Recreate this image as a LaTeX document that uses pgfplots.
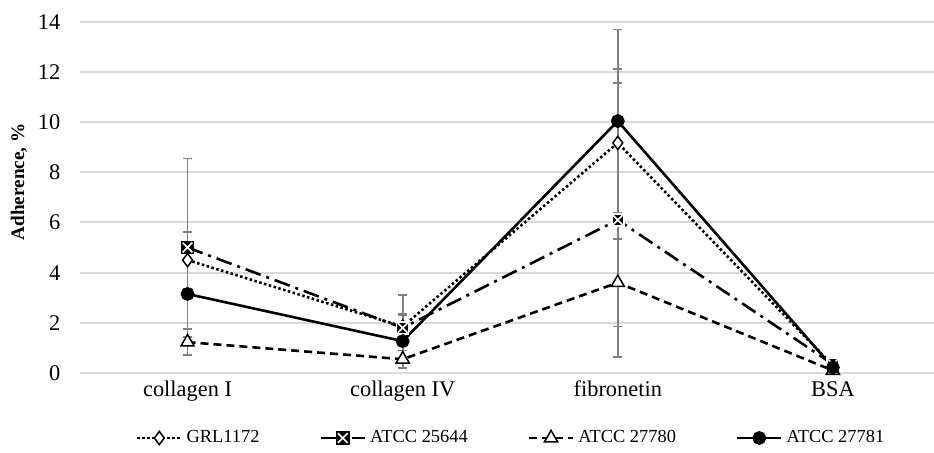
\documentclass[border=0pt]{standalone}
\usepackage{fontspec}
\setmainfont{Liberation Serif}
\usepackage{pgfplots}
\usepackage{pgfplotstable}
\pgfplotsset{compat=1.18}

% black square with a white cross
\pgfdeclareplotmark{sqx}{%
  \pgfpathrectangle{\pgfqpoint{-\pgfplotmarksize}{-\pgfplotmarksize}}{\pgfqpoint{2\pgfplotmarksize}{2\pgfplotmarksize}}%
  \pgfusepathqfillstroke
  \pgfsetstrokecolor{white}%
  \pgfsetlinewidth{0.8pt}%
  \pgfpathmoveto{\pgfqpoint{-0.8\pgfplotmarksize}{-0.8\pgfplotmarksize}}%
  \pgfpathlineto{\pgfqpoint{0.8\pgfplotmarksize}{0.8\pgfplotmarksize}}%
  \pgfpathmoveto{\pgfqpoint{-0.8\pgfplotmarksize}{0.8\pgfplotmarksize}}%
  \pgfpathlineto{\pgfqpoint{0.8\pgfplotmarksize}{-0.8\pgfplotmarksize}}%
  \pgfusepathqstroke
}

\pgfplotstableread{
x y e
0 4.50 1.13
1 1.85 0.50
2 9.17 2.95
3 0.30 0.10
}\grl
\pgfplotstableread{
x y e
0 5.00 3.55
1 1.80 1.30
2 6.10 5.45
3 0.35 0.10
}\atccA
\pgfplotstableread{
x y e
0 1.23 0.52
1 0.55 0.35
2 3.60 1.75
3 0.10 0.08
}\atccB
\pgfplotstableread{
x y e
0 3.15 1.40
1 1.27 1.05
2 10.04 3.65
3 0.22 0.10
}\atccC

\begin{document}
\begin{tikzpicture}
\begin{axis}[
    at={(0,0)}, anchor=south west,
    scale only axis,
    width=427pt, height=175.65pt,
    xmin=-0.5, xmax=3.47,
    ymin=0, ymax=14,
    xtick={0,1,2,3},
    xticklabels={collagen I, collagen IV, fibronetin, BSA},
    ytick={0,2,...,14},
    axis line style={draw=none},
    major tick length=0pt,
    ymajorgrids=true,
    major grid style={draw=black!15, line width=1pt},
    tick label style={font=\fontsize{11.2}{13}\selectfont},
    /pgf/number format/assume math mode=true,
    yticklabel style={xshift=-6.3pt},
    xticklabel style={anchor=base, yshift=-11.5pt},
    ylabel={Adherence, \%},
    ylabel style={font=\fontsize{9.6}{11}\selectfont\bfseries,
        at={(axis description cs:-0.0714,0.544)}, anchor=center},
    legend columns=4,
    legend style={at={(axis description cs:0.506,-0.185)}, anchor=center,
        draw=none, font=\fontsize{9.2}{11}\selectfont,
        /tikz/every even column/.append style={column sep=28pt}},
    legend image code/.code={%
        \draw[mark repeat=2, mark phase=2] plot coordinates {(0pt,0pt) (11pt,0pt) (22pt,0pt)};},
    error bars/error bar style={draw=black!50, line width=0.9pt, solid},
    error bars/error mark options={rotate=90, mark size=2.25pt, draw=black!50, line width=0.9pt, solid},
]
% error bars first, so the markers sit on top
\addplot[forget plot, draw=none, mark=none, error bars/.cd, y dir=both, y explicit]
    table[x=x, y=y, y error=e] {\grl};
\addplot[forget plot, draw=none, mark=none, error bars/.cd, y dir=both, y explicit]
    table[x=x, y=y, y error=e] {\atccA};
\addplot[forget plot, draw=none, mark=none, error bars/.cd, y dir=both, y explicit]
    table[x=x, y=y, y error=e] {\atccB};
\addplot[forget plot, draw=none, mark=none, error bars/.cd, y dir=both, y explicit]
    table[x=x, y=y, y error=e] {\atccC};

\addplot[black, line width=1.3pt, dash pattern=on 1.25pt off 1.25pt,
    mark=diamond*, mark size=3.3pt,
    mark options={solid, fill=white, line width=0.75pt}]
    table[x=x, y=y] {\grl};
\addlegendentry{GRL1172}
\addplot[black, line width=1.3pt, dash pattern=on 8pt off 3pt on 1.5pt off 3pt,
    mark=sqx, mark size=3pt,
    mark options={solid, line width=0.75pt}]
    table[x=x, y=y] {\atccA};
\addlegendentry{ATCC 25644}
\addplot[black, line width=1.3pt, dash pattern=on 4pt off 2.5pt,
    mark=triangle*, mark size=3.8pt,
    mark options={solid, fill=white, line width=0.75pt}]
    table[x=x, y=y] {\atccB};
\addlegendentry{ATCC 27780}
\addplot[black, line width=1.3pt,
    mark=*, mark size=2.8pt,
    mark options={solid}]
    table[x=x, y=y] {\atccC};
\addlegendentry{ATCC 27781}
\end{axis}
\pgfresetboundingbox
\useasboundingbox (-40pt,-39.5pt) rectangle (427pt,186.5pt);
\end{tikzpicture}
\end{document}
